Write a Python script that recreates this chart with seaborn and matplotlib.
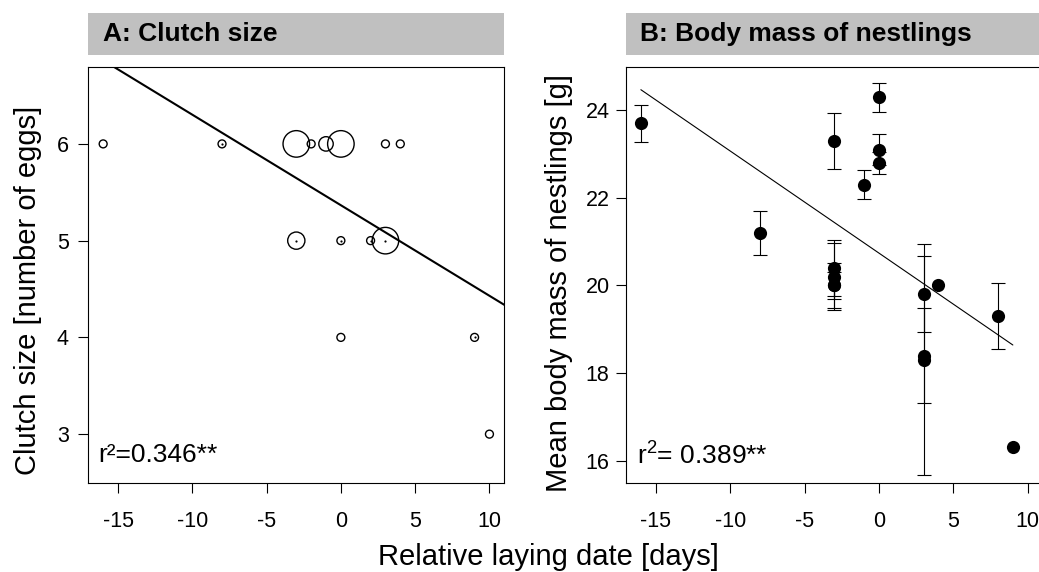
import numpy as np
import pandas as pd
import matplotlib
matplotlib.use("Agg")
import matplotlib.pyplot as plt
from matplotlib.patches import Rectangle
import seaborn as sns

# ---------------- data ----------------
# Panel A: clutch size vs relative laying date (bubble = number of nests)
a_date = [-16, -8, -3, -2, -1, 0, 3, 4, -3, 0, 2, 3, 0, 9, 10]
a_clutch = [6, 6, 6, 6, 6, 6, 6, 6, 5, 5, 5, 5, 4, 4, 3]
a_weight = [1, 1, 3, 1, 1.7, 3, 1, 1, 2, 1, 1, 3, 1, 1, 1]
a_dot_date = [-8, -3, 0, 2, 3, 9]
a_dot_clutch = [6, 5, 5, 5, 5, 4]
a_fit = (5.366, -0.0936)          # intercept, slope
a_r2 = "r²=0.346**"

# Panel B: mean nestling body mass vs relative laying date
b_date = [-16, -8, -3, -3, -3, -3, -3, -1, 0, 0, 0, 3, 3, 3, 4, 8, 9]
b_mass = [23.7, 21.2, 23.3, 20.4, 20.2, 20.0, 20.0, 22.3, 24.3, 23.1, 22.8,
          19.8, 18.4, 18.3, 20.0, 19.3, 16.3]
b_err = [0.43, 0.50, 0.645, 0.64, 0.77, 0.51, 0.30, 0.33, 0.33, 0.36, 0.25,
         0.87, 1.08, 2.64, 0.0, 0.75, 0.0]
b_fit = (20.739, -0.2332)         # intercept, slope
b_r2 = r"r$^{\mathregular{2}}$= 0.389**"

title_a = "A: Clutch size"
title_b = "B: Body mass of nestlings"
xlabel = "Relative laying date [days]"
ylabel_a = "Clutch size [number of eggs]"
ylabel_b = "Mean body mass of nestlings [g]"
xticks = [-15, -10, -5, 0, 5, 10]
yticks_a = [3, 4, 5, 6]
yticks_b = [16, 18, 20, 22, 24]

# ---------------- style ----------------
sns.set_theme(style="ticks")
plt.rcParams["font.family"] = ["Liberation Sans", "DejaVu Sans"]
plt.rcParams["mathtext.fontset"] = "custom"
plt.rcParams["mathtext.rm"] = "Liberation Sans"
plt.rcParams["mathtext.it"] = "Liberation Sans:italic"
plt.rcParams["axes.unicode_minus"] = False
plt.rcParams["text.color"] = "black"
plt.rcParams["axes.labelcolor"] = "black"
plt.rcParams["xtick.color"] = "black"
plt.rcParams["ytick.color"] = "black"

W, H = 1039, 572
fig = plt.figure(figsize=(W / 100, H / 100), dpi=100)
fig.patch.set_facecolor("white")

def fx(px):
    return px / W

def fy(py):
    return 1 - py / H

ax_top, ax_bot = 66.5, 482.5
axA = fig.add_axes([fx(88.3), fy(ax_bot), fx(416.0), (ax_bot - ax_top) / H])
axB = fig.add_axes([fx(626.0), fy(ax_bot), fx(416.6), (ax_bot - ax_top) / H])

# ---------------- panel A ----------------
dfA = pd.DataFrame({"date": a_date, "clutch": a_clutch, "w": a_weight})
size_map = {w: (6.7 * w - 1.0) ** 2 for w in sorted(set(a_weight))}
sns.scatterplot(data=dfA, x="date", y="clutch", size="w", sizes=size_map,
                facecolor="none", edgecolor="black", linewidth=1.0,
                legend=False, ax=axA, zorder=3)
sns.scatterplot(x=a_dot_date, y=a_dot_clutch, color="black", s=2.5,
                linewidth=0, ax=axA, zorder=4)
axA.axline((0, a_fit[0]), slope=a_fit[1], color="black", lw=1.5, zorder=2)
axA.set_xlim(-17, 11)
axA.set_ylim(2.5, 6.8)
axA.set_xticks(xticks)
axA.set_yticks(yticks_a)
axA.set_xlabel("")
axA.set_ylabel("")

# ---------------- panel B ----------------
bx = np.array(b_date, dtype=float)
by = np.array(b_mass, dtype=float)
be = np.array(b_err, dtype=float)
m = be > 0
axB.errorbar(bx[m], by[m], yerr=be[m], fmt="none", ecolor="black",
             elinewidth=0.8, capsize=4.7, capthick=0.8, zorder=2)
sns.scatterplot(x=b_date, y=b_mass, color="black", s=90, linewidth=0,
                ax=axB, zorder=3)
line_x = np.array([bx.min(), bx.max()])
sns.lineplot(x=line_x, y=b_fit[0] + b_fit[1] * line_x, color="black",
             linewidth=0.8, ax=axB, zorder=4)
axB.set_xlim(-17, 11)
axB.set_ylim(15.5, 25)
axB.set_xticks(xticks)
axB.set_yticks(yticks_b)
axB.set_xlabel("")
axB.set_ylabel("")

for ax, ypad in ((axA, 6.8), (axB, 4.6)):
    for sp in ax.spines.values():
        sp.set_color("black")
        sp.set_linewidth(0.8)
    ax.tick_params(axis="both", direction="out", length=7.2, width=0.8,
                   color="black", labelsize=15.5, labelcolor="black")
    ax.tick_params(axis="x", pad=13.2)
    ax.tick_params(axis="y", pad=ypad)
    ax.grid(False)
    ax.set_facecolor("white")

# ---------------- headers ----------------
for x0, w, t in ((88.3, 416.0, title_a), (626.0, 420.0, title_b)):
    fig.add_artist(Rectangle((fx(x0), fy(55)), fx(w), 42 / H,
                             transform=fig.transFigure, facecolor="#c0c0c0",
                             edgecolor="none", zorder=0))
    fig.text(fx(x0 + 14.5), fy(34), t, fontsize=19, fontweight="bold",
             va="center", ha="left", color="black")

# ---------------- texts ----------------
fig.text(fx(98.3), fy(462), a_r2, fontsize=19, va="baseline", ha="left")
fig.text(fx(637.3), fy(465), b_r2, fontsize=19, va="baseline", ha="left")
fig.text(fx(548), fy(565), xlabel, fontsize=21, ha="center", va="baseline")
fig.text(fx(28), fy(290), ylabel_a, fontsize=21, rotation=90,
         ha="center", va="center")
fig.text(fx(559), fy(283), ylabel_b, fontsize=21, rotation=90,
         ha="center", va="center")

fig.savefig("out.png", dpi=100, facecolor="white")
